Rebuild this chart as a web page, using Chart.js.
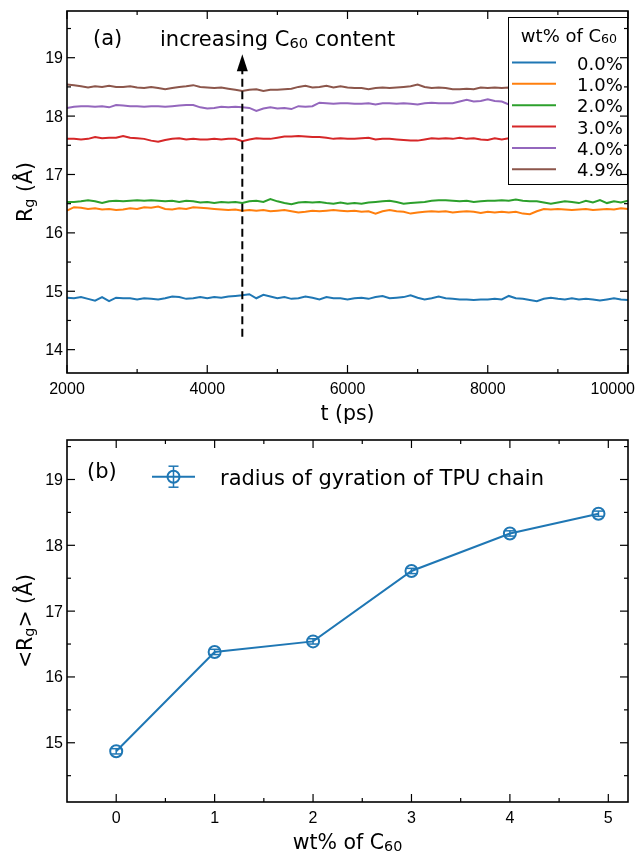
<!DOCTYPE html>
<html><head><meta charset="utf-8">
<script src="https://cdn.jsdelivr.net/npm/chart.js@4.4.1/dist/chart.umd.min.js"></script>
<style>
html,body{margin:0;padding:0;background:#fff;}
#wrap{position:relative;width:637px;height:857px;overflow:hidden;background:#fff;}
canvas{position:absolute;left:0;top:0;}
</style></head><body>
<div id="wrap">
<canvas id="ca" width="637" height="857"></canvas>
<canvas id="cb" width="637" height="857"></canvas>
</div>
<script>
// ---------- data: panel (a) ----------
const times = [2000,2100,2200,2300,2400,2500,2600,2700,2800,2900,
3000,3100,3200,3300,3400,3500,3600,3700,3800,3900,
4000,4100,4200,4300,4400,4500,4600,4700,4800,4900,
5000,5100,5200,5300,5400,5500,5600,5700,5800,5900,
6000,6100,6200,6300,6400,6500,6600,6700,6800,6900,
7000,7100,7200,7300,7400,7500,7600,7700,7800,7900,
8000,8100,8200,8300,8400,8500,8600,8700,8800,8900,
9000,9100,9200,9300,9400,9500,9600,9700,9800,9900,10000];

const rg0 = [14.89,14.88,14.90,14.87,14.84,14.90,14.83,14.89,14.88,14.88,
14.86,14.88,14.87,14.86,14.88,14.91,14.90,14.87,14.88,14.90,
14.88,14.90,14.89,14.91,14.92,14.93,14.95,14.88,14.94,14.91,
14.88,14.90,14.87,14.88,14.91,14.89,14.86,14.90,14.88,14.88,
14.86,14.88,14.89,14.87,14.90,14.92,14.88,14.89,14.90,14.93,
14.89,14.86,14.88,14.91,14.88,14.87,14.86,14.86,14.85,14.86,
14.86,14.87,14.86,14.92,14.88,14.87,14.85,14.83,14.87,14.89,
14.87,14.86,14.88,14.86,14.87,14.86,14.84,14.86,14.88,14.86,14.85];

const rg1 = [16.38,16.44,16.43,16.41,16.42,16.40,16.41,16.39,16.40,16.42,
16.41,16.44,16.43,16.45,16.41,16.40,16.42,16.41,16.44,16.43,
16.42,16.41,16.40,16.39,16.40,16.38,16.39,16.38,16.39,16.37,
16.38,16.39,16.37,16.35,16.36,16.38,16.37,16.38,16.39,16.38,
16.37,16.38,16.36,16.37,16.33,16.37,16.39,16.37,16.36,16.33,
16.35,16.36,16.37,16.36,16.37,16.35,16.36,16.37,16.36,16.34,
16.36,16.35,16.36,16.35,16.36,16.33,16.32,16.37,16.41,16.40,
16.41,16.40,16.39,16.40,16.41,16.39,16.40,16.41,16.40,16.42,16.41];

const rg2 = [16.53,16.53,16.54,16.56,16.54,16.51,16.54,16.55,16.54,16.55,
16.56,16.55,16.56,16.55,16.54,16.55,16.53,16.55,16.54,16.52,
16.53,16.51,16.53,16.52,16.53,16.51,16.54,16.55,16.53,16.58,
16.54,16.51,16.49,16.52,16.53,16.52,16.53,16.51,16.50,16.52,
16.50,16.51,16.50,16.52,16.53,16.54,16.55,16.53,16.50,16.51,
16.52,16.53,16.55,16.56,16.56,16.55,16.54,16.55,16.53,16.54,
16.55,16.55,16.56,16.55,16.57,16.55,16.54,16.54,16.52,16.50,
16.52,16.54,16.53,16.51,16.55,16.52,16.56,16.51,16.54,16.52,16.55];

const rg3 = [17.61,17.61,17.60,17.61,17.64,17.62,17.63,17.63,17.66,17.63,
17.62,17.61,17.58,17.56,17.59,17.61,17.62,17.60,17.61,17.60,
17.60,17.61,17.60,17.61,17.61,17.57,17.60,17.62,17.61,17.61,
17.63,17.65,17.65,17.66,17.65,17.64,17.64,17.63,17.61,17.62,
17.61,17.61,17.62,17.63,17.60,17.61,17.61,17.60,17.59,17.58,
17.58,17.60,17.62,17.61,17.62,17.61,17.63,17.61,17.62,17.60,
17.59,17.62,17.60,17.62,17.61,17.60,17.62,17.61,17.60,17.62,
17.61,17.63,17.61,17.60,17.62,17.61,17.60,17.62,17.61,17.63,17.62];

const rg4 = [18.14,18.16,18.17,18.17,18.16,18.17,18.15,18.19,18.18,18.17,
18.17,18.16,18.17,18.17,18.16,18.17,18.18,18.19,18.19,18.15,
18.13,18.14,18.16,18.15,18.16,18.15,18.14,18.09,18.13,18.15,
18.13,18.14,18.12,18.17,18.16,18.17,18.23,18.22,18.21,18.22,
18.22,18.21,18.21,18.22,18.20,18.22,18.22,18.21,18.22,18.21,
18.20,18.22,18.23,18.22,18.22,18.22,18.25,18.28,18.25,18.26,
18.29,18.26,18.25,18.20,18.21,18.22,18.21,18.22,18.20,18.21,
18.22,18.20,18.21,18.22,18.20,18.21,18.22,18.21,18.20,18.22,18.21];

const rg5 = [18.54,18.53,18.51,18.49,18.51,18.50,18.52,18.50,18.50,18.51,
18.49,18.48,18.50,18.48,18.46,18.48,18.50,18.51,18.53,18.50,
18.49,18.48,18.49,18.47,18.45,18.43,18.45,18.46,18.43,18.45,
18.45,18.46,18.47,18.50,18.52,18.49,18.50,18.52,18.49,18.51,
18.49,18.48,18.48,18.46,18.48,18.49,18.48,18.49,18.50,18.51,
18.54,18.50,18.48,18.49,18.48,18.46,18.46,18.47,18.46,18.49,
18.48,18.49,18.48,18.49,18.48,18.50,18.49,18.48,18.50,18.49,
18.48,18.49,18.50,18.48,18.49,18.50,18.48,18.49,18.50,18.48,18.49];

const seriesLabels = ['0.0%','1.0%','2.0%','3.0%','4.0%','4.9%'];
const seriesColors = ['#1f77b4','#ff7f0e','#2ca02c','#d62728','#9467bd','#8c564b'];
const topXTicks = [2000,4000,6000,8000,10000];
const topXMinor = [3000,5000,7000,9000];
const topYTicks = [14,15,16,17,18,19];
const topYMinor = [14.5,15.5,16.5,17.5,18.5,19.5];
const arrowX = [4500];
const arrowY = [14.22,19.06];

// ---------- data: panel (b) ----------
const wtContent = [0,1,2,3,4,4.9];
const meanRg = [14.87,16.38,16.54,17.61,18.18,18.48];
const meanRgErr = [0.04,0.04,0.04,0.04,0.04,0.04];
const botXTicks = [0,1,2,3,4,5];
const botXMinor = [0.5,1.5,2.5,3.5,4.5];
const botYTicks = [15,16,17,18,19];
const botYMinor = [14.5,15.5,16.5,17.5,18.5,19.5];

// ---------- helpers ----------
const DV = "'DejaVu Sans', sans-serif";
const LS = "'Liberation Sans', Arial, sans-serif";
function richWidth(ctx, parts, size, fam){
  let w=0;
  for(const p of parts){ctx.font=(p.sub?size*0.7:size)+'px '+fam; w+=ctx.measureText(p.t).width;}
  return w;
}
function drawRich(ctx, parts, x, y, size, fam, align){
  const w=richWidth(ctx,parts,size,fam);
  let cx = align==='center'? x-w/2 : (align==='right'? x-w : x);
  ctx.textAlign='left'; ctx.textBaseline='alphabetic';
  for(const p of parts){
    const s=p.sub?size*0.7:size;
    ctx.font=s+'px '+fam;
    ctx.fillText(p.t, cx, p.sub? y+size*0.1 : y);
    cx+=ctx.measureText(p.t).width;
  }
}
function seg(ctx,x1,y1,x2,y2){ctx.beginPath();ctx.moveTo(x1,y1);ctx.lineTo(x2,y2);ctx.stroke();}

const framePlugin = {
  id:'frame',
  afterDraw(chart, args, o){
    const ctx=chart.ctx, a=chart.chartArea, x=chart.scales.x, y=chart.scales.y;
    ctx.save();
    ctx.strokeStyle='#000'; ctx.lineWidth=1.2;
    const tick=(list,len,isX)=>{
      for(const v of list){
        if(isX){const p=x.getPixelForValue(v); seg(ctx,p,a.bottom,p,a.bottom-len); seg(ctx,p,a.top,p,a.top+len);}
        else {const p=y.getPixelForValue(v); seg(ctx,a.left,p,a.left+len,p); seg(ctx,a.right,p,a.right-len,p);}
      }
    };
    tick(o.xMajor,8,true); tick(o.xMinor,4,true); tick(o.yMajor,8,false); tick(o.yMinor,4,false);
    ctx.lineWidth=1.6;
    ctx.strokeRect(a.left,a.top,a.right-a.left,a.bottom-a.top);
    // tick labels
    ctx.fillStyle='#000';
    ctx.font='16px '+LS; ctx.textBaseline='alphabetic';
    ctx.textAlign='center';
    for(const v of o.xMajor){
      const s=String(v); const w=ctx.measureText(s).width;
      let p=x.getPixelForValue(v); p=Math.min(p, chart.width-w/2-2);
      ctx.fillText(s,p,a.bottom+21);
    }
    ctx.textAlign='right';
    for(const v of o.yMajor){ctx.fillText(String(v),63,y.getPixelForValue(v)+5.5);}
    // axis titles
    drawRich(ctx,o.xTitle,(a.left+a.right)/2,o.xTitleY,20.5,DV,'center');
    ctx.save(); ctx.translate(31.5,(a.top+a.bottom)/2); ctx.rotate(-Math.PI/2);
    drawRich(ctx,o.yTitle,0,0,20.5,DV,'center'); ctx.restore();
    ctx.restore();
  }
};

const panelAExtras = {
  id:'panelA',
  afterDatasetsDraw(chart){
    const ctx=chart.ctx, x=chart.scales.x, y=chart.scales.y;
    ctx.save();
    // dashed arrow
    const px=x.getPixelForValue(arrowX[0]);
    const yb=y.getPixelForValue(arrowY[0]), yt=y.getPixelForValue(arrowY[1]);
    ctx.strokeStyle='#000'; ctx.lineWidth=2; ctx.setLineDash([8,4.5]);
    seg(ctx,px,yb,px,yt+15);
    ctx.setLineDash([]);
    ctx.fillStyle='#000';
    ctx.beginPath(); ctx.moveTo(px,yt); ctx.lineTo(px-5.5,yt+17); ctx.lineTo(px+5.5,yt+17); ctx.closePath(); ctx.fill();
    // texts
    ctx.font='21px '+DV; ctx.textAlign='left'; ctx.textBaseline='alphabetic';
    ctx.fillText('(a)',93,44.5);
    drawRich(ctx,[{t:'increasing C'},{t:'60',sub:true},{t:' content'}],160,45.5,21,DV,'left');
    // legend
    ctx.fillStyle='#fff'; ctx.fillRect(508,17,119,167);
    ctx.strokeStyle='#000'; ctx.lineWidth=1; ctx.strokeRect(508.5,17.5,119,167);
    ctx.fillStyle='#000';
    drawRich(ctx,[{t:'wt% of C'},{t:'60',sub:true}],569,41.5,18,DV,'center');
    chart.data.datasets.forEach((ds,i)=>{
      const yc=62.5+i*21.35;
      ctx.strokeStyle=ds.borderColor; ctx.lineWidth=2; seg(ctx,512,yc,556,yc);
      ctx.fillStyle='#000'; ctx.font='18px '+DV; ctx.textAlign='left';
      ctx.fillText(ds.label,577,yc+7);
    });
    ctx.restore();
  }
};

const panelBExtras = {
  id:'panelB',
  afterDatasetsDraw(chart){
    const ctx=chart.ctx, x=chart.scales.x, y=chart.scales.y;
    const col=seriesColors[0];
    ctx.save();
    ctx.strokeStyle=col; ctx.lineWidth=1.5;
    wtContent.forEach((w,i)=>{
      const px=x.getPixelForValue(w);
      const y1=y.getPixelForValue(meanRg[i]-meanRgErr[i]), y2=y.getPixelForValue(meanRg[i]+meanRgErr[i]);
      seg(ctx,px,y1,px,y2); seg(ctx,px-5,y1,px+5,y1); seg(ctx,px-5,y2,px+5,y2);
    });
    // texts
    ctx.fillStyle='#000'; ctx.font='21px '+DV; ctx.textAlign='left'; ctx.textBaseline='alphabetic';
    ctx.fillText('(b)',87,477.5);
    // legend
    const ly=476.7;
    ctx.strokeStyle=col; ctx.lineWidth=2; seg(ctx,152,ly,195,ly);
    ctx.lineWidth=1.5; seg(ctx,173.5,ly-10.5,173.5,ly+10.5); seg(ctx,168.5,ly-10.5,178.5,ly-10.5); seg(ctx,168.5,ly+10.5,178.5,ly+10.5);
    ctx.lineWidth=2; ctx.beginPath(); ctx.arc(173.5,ly,6,0,Math.PI*2); ctx.stroke();
    ctx.fillStyle='#000'; ctx.font='21px '+DV;
    ctx.fillText('radius of gyration of TPU chain',220,485);
    ctx.restore();
  }
};

Chart.defaults.animation=false;

new Chart(document.getElementById('ca'),{
  type:'line',
  data:{
    datasets:[rg0,rg1,rg2,rg3,rg4,rg5].map((arr,i)=>({
      label:seriesLabels[i],
      data:times.map((t,k)=>({x:t,y:arr[k]})),
      borderColor:seriesColors[i], borderWidth:2, pointRadius:0, tension:0, fill:false
    }))
  },
  options:{
    responsive:false, devicePixelRatio:1, animation:false,
    layout:{padding:{left:67,top:11,right:9,bottom:857-373}},
    scales:{
      x:{type:'linear',min:2000,max:10000,display:false},
      y:{type:'linear',min:13.6,max:19.8,display:false}
    },
    plugins:{
      legend:{display:false}, tooltip:{enabled:false},
      frame:{xMajor:topXTicks,xMinor:topXMinor,yMajor:topYTicks,yMinor:topYMinor,
        xTitle:[{t:'t (ps)'}], xTitleY:419.5,
        yTitle:[{t:'R'},{t:'g',sub:true},{t:' (Å)'}]}
    }
  },
  plugins:[panelAExtras,framePlugin]
});

new Chart(document.getElementById('cb'),{
  type:'line',
  data:{
    datasets:[{
      label:'radius of gyration of TPU chain',
      data:wtContent.map((w,i)=>({x:w,y:meanRg[i]})),
      borderColor:seriesColors[0], borderWidth:2, tension:0, fill:false,
      pointRadius:6, pointBorderWidth:2, pointBackgroundColor:'rgba(0,0,0,0)', pointBorderColor:seriesColors[0]
    }]
  },
  options:{
    responsive:false, devicePixelRatio:1, animation:false,
    layout:{padding:{left:67,top:440,right:9,bottom:857-802}},
    scales:{
      x:{type:'linear',min:-0.5,max:5.2,display:false},
      y:{type:'linear',min:14.1,max:19.6,display:false}
    },
    plugins:{
      legend:{display:false}, tooltip:{enabled:false},
      frame:{xMajor:botXTicks,xMinor:botXMinor,yMajor:botYTicks,yMinor:botYMinor,
        xTitle:[{t:'wt% of C'},{t:'60',sub:true}], xTitleY:849,
        yTitle:[{t:'<R'},{t:'g',sub:true},{t:'> (Å)'}]}
    }
  },
  plugins:[panelBExtras,framePlugin]
});
</script>
</body></html>
